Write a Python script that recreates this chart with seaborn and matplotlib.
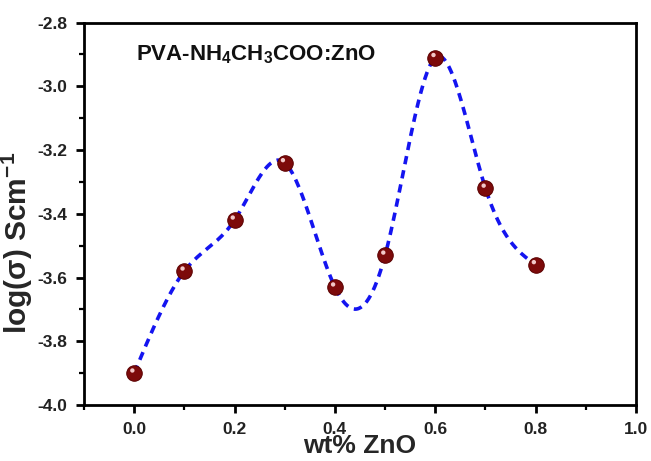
import numpy as np
import pandas as pd
import matplotlib
matplotlib.use("Agg")
import matplotlib.pyplot as plt
import matplotlib.transforms as mtransforms
from matplotlib.ticker import MultipleLocator
import seaborn as sns

# Conductivity of PVA-NH4CH3COO films versus ZnO content
wt_zno = [0.0, 0.1, 0.2, 0.3, 0.4, 0.5, 0.6, 0.7, 0.8]
log_sigma = [-3.90, -3.58, -3.42, -3.24, -3.63, -3.53, -2.91, -3.32, -3.56]

x_ticks = [0.0, 0.2, 0.4, 0.6, 0.8, 1.0]
y_ticks = [-4.0, -3.8, -3.6, -3.4, -3.2, -3.0, -2.8]

sns.set_theme(style="ticks")
plt.rcParams["font.family"] = ["Liberation Sans", "DejaVu Sans"]
plt.rcParams["mathtext.fontset"] = "custom"
plt.rcParams["mathtext.rm"] = "Liberation Sans:bold"
plt.rcParams["mathtext.bf"] = "Liberation Sans:bold"
plt.rcParams["mathtext.it"] = "Liberation Sans:bold"
plt.rcParams["mathtext.sf"] = "Liberation Sans:bold"


def natural_spline(x, y, n=400):
    """Natural cubic spline through (x, y), evaluated on a dense grid."""
    x = np.asarray(x, float)
    y = np.asarray(y, float)
    k = len(x)
    h = np.diff(x)
    A = np.zeros((k, k))
    b = np.zeros(k)
    A[0, 0] = A[-1, -1] = 1.0
    for i in range(1, k - 1):
        A[i, i - 1] = h[i - 1]
        A[i, i] = 2 * (h[i - 1] + h[i])
        A[i, i + 1] = h[i]
        b[i] = 3 * ((y[i + 1] - y[i]) / h[i] - (y[i] - y[i - 1]) / h[i - 1])
    c = np.linalg.solve(A, b)
    xs = np.linspace(x[0], x[-1], n)
    idx = np.clip(np.searchsorted(x, xs) - 1, 0, k - 2)
    dx = xs - x[idx]
    hi = h[idx]
    bcoef = (y[idx + 1] - y[idx]) / hi - hi * (2 * c[idx] + c[idx + 1]) / 3
    dcoef = (c[idx + 1] - c[idx]) / (3 * hi)
    ys = y[idx] + bcoef * dx + c[idx] * dx ** 2 + dcoef * dx ** 3
    return xs, ys


points = pd.DataFrame({"wt": wt_zno, "logsigma": log_sigma})
sx, sy = natural_spline(wt_zno, log_sigma)
curve = pd.DataFrame({"wt": sx, "logsigma": sy})

fig = plt.figure(figsize=(6.51, 4.61), dpi=100)
ax = fig.add_axes([0.129, 0.1215, 0.848, 0.8295])

sns.lineplot(data=curve, x="wt", y="logsigma", ax=ax, color="#1414f0",
             linewidth=2.6, linestyle=(0, (2.3, 1.7)), zorder=2)
sns.scatterplot(data=points, x="wt", y="logsigma", ax=ax, s=125,
                color="#7d0a0a", edgecolor="#5a0000", linewidth=0.7, zorder=3)
# small specular highlight on each bead
shift = mtransforms.offset_copy(ax.transData, fig=fig, x=-1.3, y=1.9, units="points")
ax.scatter(wt_zno, log_sigma, s=10, color="#f2c8c8", edgecolor="none",
           transform=shift, zorder=4)

ax.set_xlim(-0.1, 1.0)
ax.set_ylim(-4.0, -2.8)
ax.set_xticks(x_ticks)
ax.set_yticks(y_ticks)
ax.xaxis.set_minor_locator(MultipleLocator(0.1))
ax.yaxis.set_minor_locator(MultipleLocator(0.1))
ax.set_xticklabels([f"{v:.1f}" for v in x_ticks], fontweight="bold", fontsize=12.5)
ax.set_yticklabels([f"{v:.1f}" for v in y_ticks], fontweight="bold", fontsize=12.5)

ax.tick_params(which="major", direction="out", length=6, width=2, color="black",
               pad=6, labelcolor="#222222")
ax.tick_params(which="minor", direction="out", length=3.5, width=1.6, color="black")
ax.tick_params(top=False, right=False, which="both")
for side in ["left", "right", "top", "bottom"]:
    ax.spines[side].set_visible(True)
    ax.spines[side].set_linewidth(2.0)
    ax.spines[side].set_color("black")

ax.set_xlabel("wt% ZnO", fontsize=19, fontweight="bold", labelpad=-2)
ax.set_ylabel(r"log(σ) Scm$^{-1}$", fontsize=21.5, fontweight="bold")
ax.yaxis.set_label_coords(-0.089, 0.424)

ax.text(0.094, 0.902, r"PVA-NH$_4$CH$_3$COO:ZnO", transform=ax.transAxes,
        fontsize=16, fontweight="bold", ha="left", va="baseline", color="#111111")

fig.savefig("out.png", dpi=100)
